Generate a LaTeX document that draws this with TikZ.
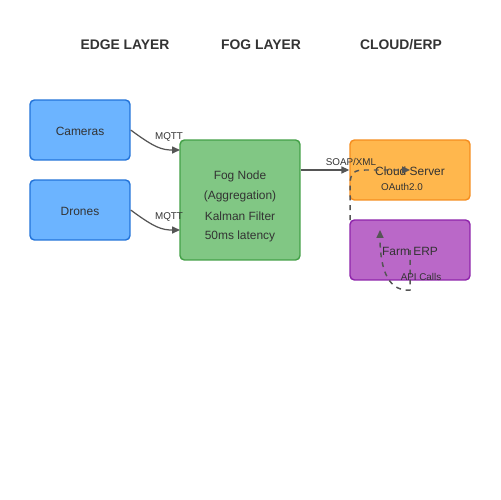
\documentclass[tikz,border=0pt]{standalone}
\usepackage{fontspec}
\setmainfont{Liberation Sans}
\usetikzlibrary{arrows.meta}
\definecolor{edgefill}{HTML}{6CB4FF}
\definecolor{edgeline}{HTML}{2273D9}
\definecolor{fogfill}{HTML}{81C784}
\definecolor{fogline}{HTML}{43A047}
\definecolor{cloudfill}{HTML}{FFB74D}
\definecolor{cloudline}{HTML}{F58D1E}
\definecolor{erpfill}{HTML}{BA68C8}
\definecolor{erpline}{HTML}{8E24AA}
\definecolor{txt}{HTML}{333333}
\definecolor{wire}{HTML}{555555}
\tikzset{
  layerbox/.style={rectangle, draw, rounded corners=2.5pt, line width=0.8pt, text=txt, font=\fontsize{6.8}{8}\selectfont},
  header/.style={text=txt, font=\bfseries\fontsize{7.9}{9}\selectfont},
  boxtext/.style={text=txt, font=\fontsize{6.8}{8}\selectfont},
  wirelabel/.style={text=txt, font=\fontsize{5.6}{6}\selectfont, inner sep=0pt},
  link/.style={draw=wire, line width=0.7pt, -{Triangle[length=4.5pt,width=4pt]}, wire},
  dashlink/.style={link, line width=0.85pt, dash pattern=on 2.8pt off 2.8pt}
}
\begin{document}
\begin{tikzpicture}[x=0.02cm, y=-0.02cm]
          % Canvas
          \useasboundingbox (0,0) rectangle (500,500);

          % Layer headers
          \node[header] (hedge)  at (125,45) {EDGE LAYER};
          \node[header] (hfog)   at (261,45) {FOG LAYER};
          \node[header] (hcloud) at (401,45) {CLOUD/ERP};

          % Boxes
          \node[layerbox, fill=edgefill, draw=edgeline, minimum width=2cm, minimum height=1.2cm] (cameras) at (80,130) {};
          \node[layerbox, fill=edgefill, draw=edgeline, minimum width=2cm, minimum height=1.2cm] (drones) at (80,210) {};
          \node[layerbox, fill=fogfill, draw=fogline, minimum width=2.4cm, minimum height=2.4cm] (fognode) at (240,200) {};
          \node[layerbox, fill=cloudfill, draw=cloudline, minimum width=2.4cm, minimum height=1.2cm] (cloud) at (410,170) {};
          \node[layerbox, fill=erpfill, draw=erpline, minimum width=2.4cm, minimum height=1.2cm] (erp) at (410,250) {};

          % Box texts
          \node[boxtext] (camtxt) at (80,131) {Cameras};
          \node[boxtext] (drotxt) at (80,211) {Drones};
          \node[boxtext] (fog1) at (240,176) {Fog Node};
          \node[boxtext] (fog2) at (240,196) {(Aggregation)};
          \node[boxtext] (fog3) at (240,216) {Kalman Filter};
          \node[boxtext] (fog4) at (240,236) {50ms latency};
          \node[boxtext] (cloudtxt) at (410,171) {Cloud Server};
          \node[boxtext] (erptxt) at (410,251) {Farm ERP};

          % Connectors
          \coordinate (fogin1) at (180,150);
          \coordinate (fogin2) at (180,230);
          \draw[link] (cameras.east) .. controls (155,148) and (162,150) .. (fogin1);
          \draw[link] (drones.east) .. controls (155,228) and (162,230) .. (fogin2);
          \draw[link] (fognode.east |- cloud.west) -- (cloud.west);

          % Dashed links
          \coordinate (erptop) at (350,220);
          \coordinate (cloudmid) at (410,170);
          \coordinate (erpmid) at (410,250);
          \coordinate (erpup) at (380,230);
          \draw[dashlink] (erptop) -- (350,185) .. controls (350,172) and (355,170) .. (365,170) -- (cloudmid);
          \draw[dashlink] (erpmid) -- (410,290) .. controls (385,292) and (380,262) .. (erpup);

          % Labels
          \node[wirelabel] (lmqtt1) at (169,137) {MQTT};
          \node[wirelabel] (lmqtt2) at (169,217) {MQTT};
          \node[wirelabel] (lsoap)  at (351,162) {SOAP/XML};
          \node[wirelabel] (loauth) at (402,187) {OAuth2.0};
          \node[wirelabel] (lapi)   at (421,277) {API Calls};

        \end{tikzpicture}
\end{document}
